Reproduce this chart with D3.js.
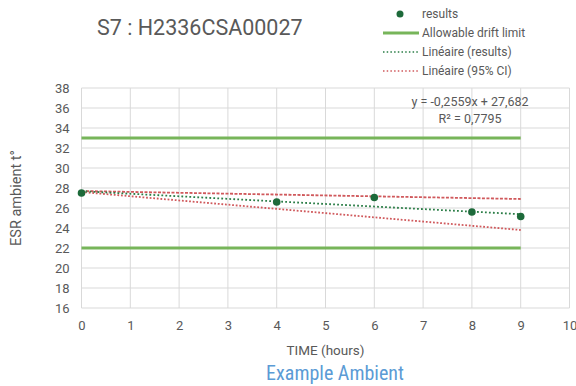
<!DOCTYPE html>
<html>
<head>
<meta charset="utf-8">
<script src="https://cdn.jsdelivr.net/npm/d3@7"></script>
<style>
  html, body { margin: 0; padding: 0; background: #fff; }
  text { font-family: Roboto, "Liberation Sans", sans-serif; }
</style>
</head>
<body>
<svg id="chart" width="576" height="386"></svg>
<script>
// ---- data ----
const timeHours = [0, 4, 6, 8, 9];
const results = [27.5, 26.6, 27.05, 25.6, 25.15];
const limitX = [0, 9];
const limitUpper = [33, 33];
const limitLower = [22, 22];
const trendX = [0, 9];
const trendY = [27.682, 25.379];
const ciX = [0, 9];
const ciUpper = [27.7, 26.9];
const ciLower = [27.6, 23.8];
const xTicks = [0, 1, 2, 3, 4, 5, 6, 7, 8, 9, 10];
const yTicks = [16, 18, 20, 22, 24, 26, 28, 30, 32, 34, 36, 38];
const legendLabels = ["results", "Allowable drift limit", "Linéaire (results)", "Linéaire (95% CI)"];
const titleText = "S7 : H2336CSA00027";
const equationText = ["y = -0,2559x + 27,682", "R² = 0,7795"];

// ---- layout ----
const svg = d3.select("#chart");
const pLeft = 81.5, pRight = 569.5, pTop = 88, pBottom = 308;
const x = d3.scaleLinear().domain([0, 10]).range([pLeft, pRight]);
const y = d3.scaleLinear().domain([16, 38]).range([pBottom, pTop]);

const grey = "#595959";
const gridC = "#d9d9d9";
const limitC = "#77b55a";
const ptC = "#1d6a3a";
const trendC = "#2a7d46";
const redC = "#d0595c";

// gridlines
const g = svg.append("g");
g.selectAll(".gx").data(xTicks).join("line")
  .attr("x1", d => x(d)).attr("x2", d => x(d))
  .attr("y1", pTop).attr("y2", pBottom)
  .attr("stroke", gridC).attr("stroke-width", 1);
g.selectAll(".gy").data(yTicks).join("line")
  .attr("x1", pLeft).attr("x2", pRight)
  .attr("y1", d => y(d)).attr("y2", d => y(d))
  .attr("stroke", gridC).attr("stroke-width", 1);

// axes labels via d3 axes
const xAxis = svg.append("g").attr("transform", `translate(0,${pBottom})`)
  .call(d3.axisBottom(x).tickValues(xTicks).tickSize(0).tickPadding(13));
xAxis.select(".domain").remove();
xAxis.selectAll("text").attr("fill", grey).style("font-size", "13px");

const yAxis = svg.append("g").attr("transform", `translate(${pLeft},0)`)
  .call(d3.axisLeft(y).tickValues(yTicks).tickSize(0).tickPadding(12));
yAxis.select(".domain").remove();
yAxis.selectAll("text").attr("fill", grey).style("font-size", "13px");

const line = d3.line().x(d => x(d[0])).y(d => y(d[1]));

// limit lines
[limitUpper, limitLower].forEach(arr => {
  svg.append("path").datum(limitX.map((v, i) => [v, arr[i]]))
    .attr("d", line).attr("fill", "none")
    .attr("stroke", limitC).attr("stroke-width", 3);
});

// CI lines
svg.append("path").datum(ciX.map((v, i) => [v, ciUpper[i]]))
  .attr("d", line).attr("fill", "none")
  .attr("stroke", redC).attr("stroke-width", 1.8).attr("stroke-dasharray", "3,1.5");
svg.append("path").datum(ciX.map((v, i) => [v, ciLower[i]]))
  .attr("d", line).attr("fill", "none")
  .attr("stroke", redC).attr("stroke-width", 1.8).attr("stroke-dasharray", "1.8,1.8");

// trend
svg.append("path").datum(trendX.map((v, i) => [v, trendY[i]]))
  .attr("d", line).attr("fill", "none")
  .attr("stroke", trendC).attr("stroke-width", 1.8).attr("stroke-dasharray", "1.8,2.2");

// points
svg.selectAll(".pt").data(timeHours.map((v, i) => [v, results[i]])).join("circle")
  .attr("cx", d => x(d[0])).attr("cy", d => y(d[1])).attr("r", 3.8)
  .attr("fill", ptC);

// equation
svg.selectAll(".eq").data(equationText).join("text")
  .attr("x", 470).attr("y", (d, i) => 106 + i * 16.5)
  .attr("text-anchor", "middle").attr("fill", grey)
  .style("font-size", "12.5px").text(d => d);

// title
svg.append("text").attr("x", 97).attr("y", 35)
  .attr("fill", grey).style("font-size", "21.5px").text(titleText);

// legend
const lg = svg.append("g");
const rowY = [14, 33, 52, 71];
lg.selectAll(".lt").data(legendLabels).join("text")
  .attr("x", 422).attr("y", (d, i) => rowY[i] + 4)
  .attr("fill", grey).style("font-size", "12px").text(d => d);
lg.append("circle").attr("cx", 400).attr("cy", rowY[0]).attr("r", 3.5).attr("fill", ptC);
lg.append("line").attr("x1", 383).attr("x2", 419).attr("y1", rowY[1]).attr("y2", rowY[1])
  .attr("stroke", limitC).attr("stroke-width", 3);
lg.append("line").attr("x1", 383).attr("x2", 419).attr("y1", rowY[2]).attr("y2", rowY[2])
  .attr("stroke", trendC).attr("stroke-width", 1.5).attr("stroke-dasharray", "1.5,2.2");
lg.append("line").attr("x1", 383).attr("x2", 419).attr("y1", rowY[3]).attr("y2", rowY[3])
  .attr("stroke", redC).attr("stroke-width", 1.5).attr("stroke-dasharray", "1.5,2.2");

// axis titles
svg.append("text").attr("x", 325.5).attr("y", 355)
  .attr("text-anchor", "middle").attr("fill", grey)
  .style("font-size", "13.5px").text("TIME (hours)");
svg.append("text")
  .attr("transform", `translate(21,${(pTop + pBottom) / 2}) rotate(-90)`)
  .attr("text-anchor", "middle").attr("fill", grey)
  .style("font-size", "14.5px").text("ESR ambient t°");

// caption
svg.append("text").attr("x", 335).attr("y", 380)
  .attr("text-anchor", "middle").attr("fill", "#5b9bd5")
  .style("font-family", "'Liberation Sans Narrow', 'Roboto Condensed', Roboto, sans-serif")
  .style("font-size", "20px").text("Example Ambient");
</script>
</body>
</html>
